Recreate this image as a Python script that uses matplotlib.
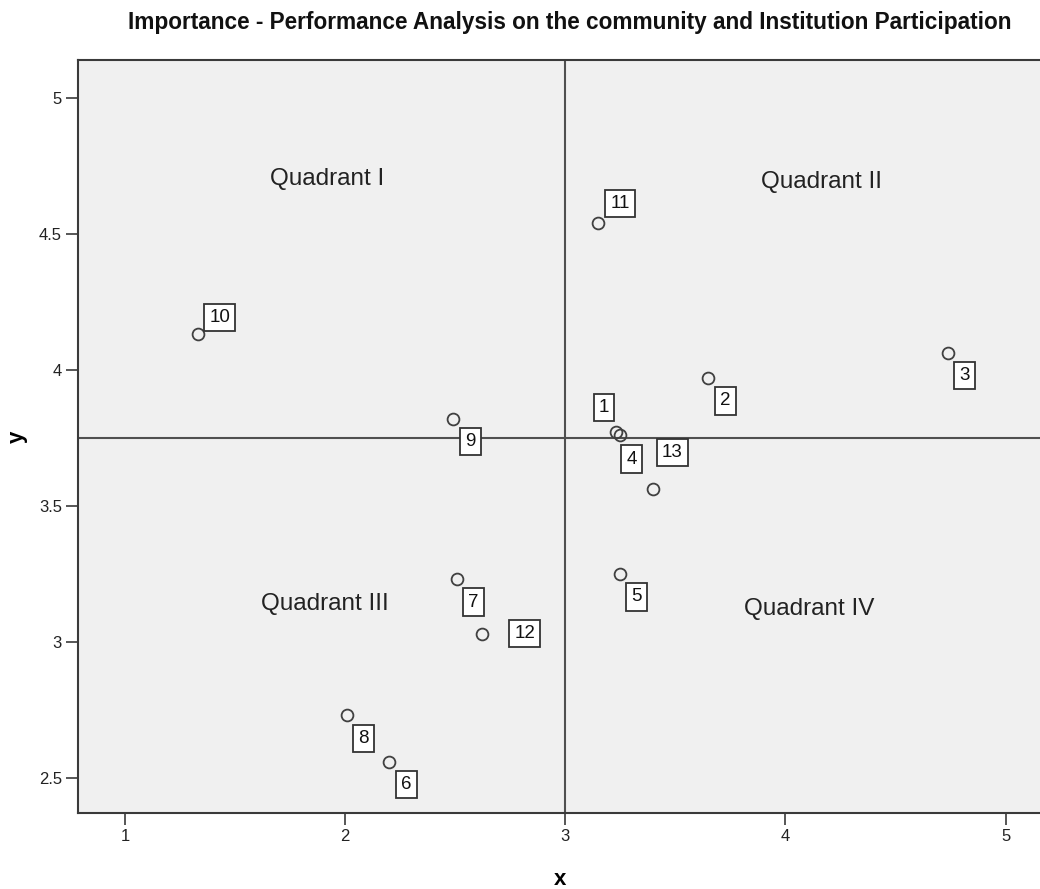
import matplotlib
matplotlib.use("Agg")
import matplotlib.pyplot as plt

# ---- data ----
point_ids = ["1", "2", "3", "4", "5", "6", "7", "8", "9", "10", "11", "12", "13"]
x_vals = [3.23, 3.65, 4.74, 3.25, 3.25, 2.20, 2.51, 2.01, 2.49, 1.33, 3.15, 2.62, 3.40]
y_vals = [3.77, 3.97, 4.06, 3.76, 3.25, 2.56, 3.23, 2.73, 3.82, 4.13, 4.54, 3.03, 3.56]
x_ref = 3.0
y_ref = 3.75
x_ticks = [1, 2, 3, 4, 5]
y_ticks = [2.5, 3, 3.5, 4, 4.5, 5]
y_tick_labels = ["2.5", "3", "3.5", "4", "4.5", "5"]
quadrant_names = ["Quadrant I", "Quadrant II", "Quadrant III", "Quadrant IV"]
title_text = "Importance - Performance Analysis on the community and Institution Participation"

# label offsets (pixels) for each point label box
label_offsets = [(-12, 25), (17, -23), (16, -22), (11, -24), (16, -23), (17, -23),
                 (16, -23), (16, -23), (17, -23), (22, 17), (22, 19), (43, 0), (19, 37)]
quad_pos = [(1.92, 4.70), (4.165, 4.69), (1.906, 3.14), (4.11, 3.12)]

regular = "Liberation Sans"

fig = plt.figure(figsize=(10.4, 8.89), dpi=100)
fig.patch.set_facecolor("white")
ax = fig.add_axes([78 / 1040, 1 - 813 / 889, 1 - 78 / 1040 + 0.002, (813 - 60) / 889])
ax.set_facecolor("#f0f0f0")
ax.set_xlim(0.786, 5.166)
ax.set_ylim(2.371, 5.138)

for s in ax.spines.values():
    s.set_color("#3a3a3a")
    s.set_linewidth(1.5)

ax.axvline(x_ref, color="#505050", lw=1.5, zorder=1)
ax.axhline(y_ref, color="#505050", lw=1.5, zorder=1)

ax.plot(x_vals, y_vals, linestyle="none", marker="o", markersize=8.5,
        markerfacecolor="none", markeredgecolor="#404040", markeredgewidth=1.3, zorder=3)

for pid, xv, yv, off in zip(point_ids, x_vals, y_vals, label_offsets):
    pad = 0.28
    ax.annotate(pid, (xv, yv), xytext=off, textcoords="offset pixels",
                ha="center", va="center", fontsize=13.5, family=regular, color="#111111",
                bbox=dict(boxstyle=f"square,pad={pad}", facecolor="white",
                          edgecolor="#333333", linewidth=1.3), zorder=4)

for name, (qx, qy) in zip(quadrant_names, quad_pos):
    ax.text(qx, qy, name, ha="center", va="center", fontsize=17.5,
            family=regular, color="#222222")

ax.set_xticks(x_ticks)
ax.set_xticklabels([str(t) for t in x_ticks])
ax.set_yticks(y_ticks)
ax.set_yticklabels(y_tick_labels)
ax.tick_params(axis="both", direction="out", length=8.5, width=1.2, color="#3a3a3a",
               labelsize=12, labelcolor="#222222", pad=3)
for lab in ax.get_xticklabels() + ax.get_yticklabels():
    lab.set_family(regular)

ax.set_xlabel("x", fontsize=16, fontweight="bold", family=regular, labelpad=18)
ax.set_ylabel("y", fontsize=16, fontweight="bold", family=regular, labelpad=8)

fig.text(570 / 1040, 1 - 23 / 889, title_text, ha="center", va="center",
         fontsize=16.3, fontweight="bold", family=regular, color="#111111")

fig.savefig("out.png", dpi=100)
